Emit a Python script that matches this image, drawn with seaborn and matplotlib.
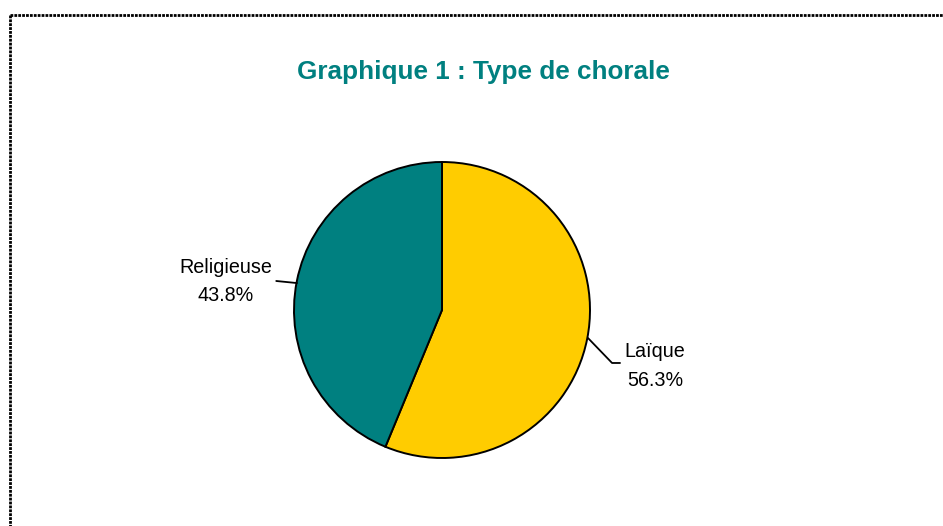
import matplotlib
matplotlib.use("Agg")
import matplotlib.pyplot as plt
import seaborn as sns
from matplotlib.lines import Line2D

categories = ["Laïque", "Religieuse"]
values = [56.3, 43.8]
pct_labels = ["56.3%", "43.8%"]
colors = ["#FFCC00", "#008080"]
title = "Graphique 1 : Type de chorale"

sns.set_theme(style="white")
plt.rcParams['font.family'] = ['Liberation Sans', 'DejaVu Sans']

W, H = 943, 526
fig = plt.figure(figsize=(W / 100, H / 100), dpi=100)
fig.patch.set_facecolor("white")

cx, cy, r = 442, 310, 148
ax = fig.add_axes([(cx - r) / W, (H - cy - r) / H, 2 * r / W, 2 * r / H])
ax.pie(values, colors=colors, startangle=90, counterclock=False,
       wedgeprops=dict(edgecolor="black", linewidth=1.4), radius=1)
ax.set_xlim(-1, 1)
ax.set_ylim(-1, 1)
ax.set_aspect("auto")
ax.axis("off")

# labels
ax.text((226 - cx) / r, (cy - 281.5) / r, f"{categories[1]}\n{pct_labels[1]}", ha="center",
        va="center", fontsize=14.2, color="black", linespacing=1.65, clip_on=False)
ax.text((655 - cx) / r, (cy - 366) / r, f"{categories[0]}\n{pct_labels[0]}", ha="center",
        va="center", fontsize=14.2, color="black", linespacing=1.65, clip_on=False)

# leader lines
ax.plot([-1.12, -0.98], [0.196, 0.182], color="black", lw=1.3, clip_on=False)
ax.plot([0.986, 1.149, 1.203], [-0.189, -0.358, -0.358], color="black", lw=1.3, clip_on=False)

fig.text(483 / W, 1 - 72 / H, title, ha="center", va="center", fontsize=18.8,
         fontweight="bold", color="#008080")

# dotted border (top and left)
ytop = 1 - 15 / H
xl = 10 / W
fig.add_artist(Line2D([xl, 1.0], [ytop, ytop], transform=fig.transFigure, color="black",
                      lw=2.0, linestyle=(0, (1, 0.4)), dash_capstyle="butt"))
fig.add_artist(Line2D([xl, xl], [ytop, 0], transform=fig.transFigure, color="black",
                      lw=2.0, linestyle=(0, (1, 0.4)), dash_capstyle="butt"))

fig.savefig("out.png", dpi=100, facecolor="white")
